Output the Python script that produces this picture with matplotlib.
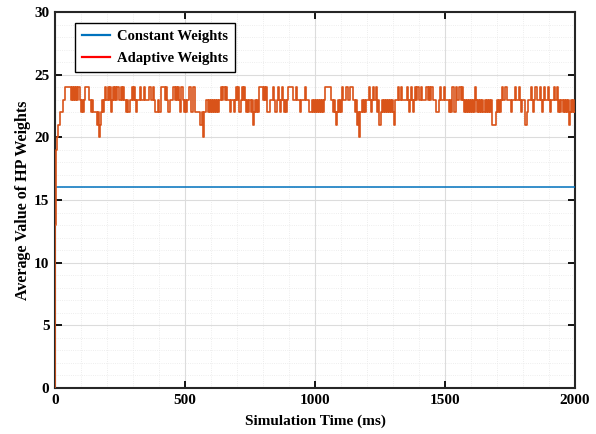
import numpy as np
import matplotlib
matplotlib.use("Agg")
import matplotlib.pyplot as plt
from matplotlib.ticker import MultipleLocator

# ---------------- data ----------------
const_t = [0, 2000]
const_v = [16, 16]

# initial ramp (ms, value)
ramp_t = [0, 1, 3, 6, 11, 19]
ramp_v = [0, 13, 19, 20, 21, 22]

# sampled adaptive weights every 4 ms from t = 24 ms
row0 = [22,22,23,23,24,24,24,24,24,23,24,23,24,23,24,23,24,24,23,22,23,22,23,24,24,24,24,23,23,22,23,22,22,22,21,22,20,21,22,23,22,23,24,23]
row1 = [23,24,23,24,22,23,24,23,24,23,24,24,23,24,23,24,23,23,22,23,22,22,23,23,24,23,24,23,22,23,23,23,24,23,23,23,24,23,23,23,24,24,23,23,24,23,22,22,22,23]
row2 = [22,22,24,24,24,24,23,24,23,22,22,23,23,24,24,23,24,23,24,23,22,24,24,23,22,23,22,23,23,24,24,22,22,24,24,22,22,22,22,21,21,22,20,22,22,23,23,22,23,22]
row3 = [23,22,23,22,23,22,23,22,23,23,24,23,24,23,24,23,23,23,22,23,23,23,22,23,24,23,24,22,22,23,24,23,24,23,22,23,22,23,22,23,21,22,23,22,23,22,24,24,24,24]
row4 = [23,24,23,24,22,22,22,23,23,23,24,23,22,23,24,23,22,23,24,23,22,23,22,23,24,24,24,24,24,23,23,23,24,23,23,23,22,23,23,23,24,23,23,23,22,22,22,23,22,23]
row5 = [22,23,22,23,22,23,22,23,22,23,24,24,24,24,24,23,23,22,23,22,21,22,23,22,23,22,24,23,23,23,24,24,23,23,24,24,24,23,22,23,21,22,20,22,22,23,22,23,22,23]
row6 = [23,23,24,23,22,23,24,23,23,24,22,23,21,22,23,22,23,22,23,22,23,22,23,22,23,22,21,23,23,23,24,23,23,24,23,23,23,23,24,23,22,23,24,23,22,23,24,23,24,24]
row7 = [23,23,24,23,23,23,23,24,24,23,24,23,24,23,23,23,22,22,22,23,24,23,23,23,24,23,23,23,23,22,23,22,24,24,22,22,24,23,24,24,23,24,23,22,23,22,23,22,23,22]
row8 = [23,22,23,22,24,23,22,23,22,23,22,23,22,23,22,23,22,23,22,23,21,21,21,21,22,23,22,23,22,23,24,23,23,24,24,23,23,23,22,23,23,23,24,23,23,23,24,23,22,23]
row9 = [23,23,21,21,22,23,23,23,24,23,22,23,24,23,23,23,24,23,22,23,24,23,23,23,24,23,22,23,23,23,24,23,23,24,22,23,22,23,22,23,22,23,22,23,21,22,23,22,23,22]

sample_step = 4
sample_start = 24

x_ticks = [0, 500, 1000, 1500, 2000]
y_ticks = [0, 5, 10, 15, 20, 25, 30]

# ---------------- build series ----------------
samples = row0 + row1 + row2 + row3 + row4 + row5 + row6 + row7 + row8 + row9
samp_t = list(range(sample_start, sample_start + sample_step * len(samples), sample_step))
adapt_t = ramp_t + samp_t + [2000]
adapt_v = ramp_v + samples + [samples[-1]]

# ---------------- plot ----------------
plt.rcParams['font.family'] = ['Liberation Serif', 'DejaVu Serif']
plt.rcParams['font.weight'] = 'bold'

fig = plt.figure(figsize=(5.96, 4.34), dpi=100)
ax = fig.add_axes([55/596, 46/434, 520/596, 376/434])

ax.plot(const_t, const_v, color='#0072BD', lw=1.1, label='Constant Weights', zorder=3)
ax.step(adapt_t, adapt_v, where='post', color='#D95319', lw=1.2, label='Adaptive Weights', zorder=4)

ax.set_xlim(0, 2000)
ax.set_ylim(0, 30)
ax.set_xticks(x_ticks)
ax.set_yticks(y_ticks)
ax.xaxis.set_minor_locator(MultipleLocator(100))
ax.yaxis.set_minor_locator(MultipleLocator(1))

ax.grid(which='major', color='#dcdcdc', lw=0.8, ls='-')
ax.grid(which='minor', color='#e8e8e8', lw=0.6, ls=':')
ax.set_axisbelow(True)

ax.tick_params(which='major', direction='in', length=5, width=1.3, top=True, right=True,
               labelsize=11, pad=4)
ax.tick_params(which='minor', length=0, top=True, right=True)
for lab in ax.get_xticklabels() + ax.get_yticklabels():
    lab.set_fontweight('bold')
for s in ax.spines.values():
    s.set_linewidth(1.5)
    s.set_color('#262626')

ax.set_xlabel('Simulation Time (ms)', fontsize=11, fontweight='bold', labelpad=6)
ax.set_ylabel('Average Value of HP Weights', fontsize=11.5, fontweight='bold', labelpad=2)

leg = ax.legend(loc='upper left', bbox_to_anchor=(0.038, 0.971), fancybox=False,
                edgecolor='black', framealpha=1, prop={'size': 10.5, 'weight': 'bold'},
                handlelength=1.9, handletextpad=0.5, borderpad=0.5, labelspacing=0.55,
                borderaxespad=0.0)
leg.get_frame().set_linewidth(1.0)
for h in leg.legend_handles:
    h.set_linewidth(1.6)
leg.legend_handles[1].set_color('#FF0000')

fig.savefig('out.png', dpi=100)
